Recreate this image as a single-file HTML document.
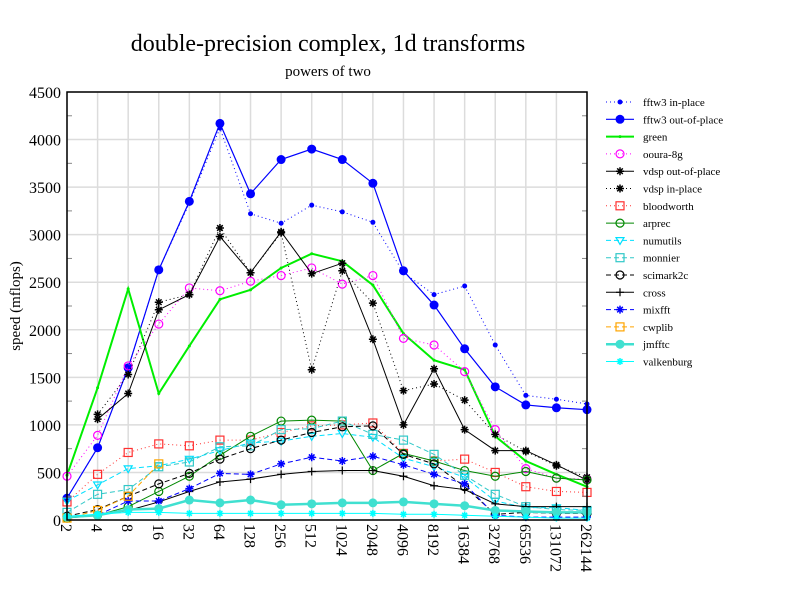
<!DOCTYPE html>
<html><head><meta charset="utf-8"><style>body{margin:0;background:#fff}svg{display:block;font-family:"Liberation Serif",serif}</style></head>
<body>
<svg id="chart" width="792" height="612" xmlns="http://www.w3.org/2000/svg">
<text x="328" y="51" font-size="24" text-anchor="middle">double-precision complex, 1d transforms</text>
<text x="328" y="76" font-size="15" text-anchor="middle">powers of two</text>
<text transform="translate(20,306) rotate(-90)" font-size="15" text-anchor="middle">speed (mflops)</text>
<g id="grid"></g>
<g id="series"></g>
<g id="axes"></g>
<g id="legend"></g>
</svg>
<script>
const categories=["2","4","8","16","32","64","128","256","512","1024","2048","4096","8192","16384","32768","65536","131072","262144"];
const yTicks=[0,500,1000,1500,2000,2500,3000,3500,4000,4500];
const seriesNames=["fftw3 in-place","fftw3 out-of-place","green","ooura-8g","vdsp out-of-place","vdsp in-place","bloodworth","arprec","numutils","monnier","scimark2c","cross","mixfft","cwplib","jmfftc","valkenburg"];
const fftwIn=[230,760,1600,2630,3330,4120,3220,3120,3310,3240,3130,2600,2370,2460,1840,1310,1270,1220];
const fftwOut=[230,760,1600,2630,3350,4170,3430,3790,3900,3790,3540,2620,2260,1800,1400,1210,1180,1160];
const green=[470,1390,2430,1330,1830,2320,2420,2650,2800,2720,2470,1960,1680,1580,880,620,480,350];
const ooura=[460,890,1620,2060,2440,2410,2510,2570,2650,2480,2570,1910,1840,1560,950,540,440,430];
const vdspOut=[null,1060,1330,2210,2370,2980,2600,3030,2590,2700,1900,1000,1590,950,730,730,580,420];
const vdspIn=[null,1110,1530,2290,2370,3070,2600,3020,1580,2620,2280,1360,1430,1260,900,720,570,450];
const bloodworth=[190,480,710,800,780,840,840,920,990,1000,1020,700,620,640,500,350,300,290];
const arprec=[20,50,140,300,460,680,880,1040,1050,1040,520,700,620,520,460,510,440,420];
const numutils=[200,370,540,570,640,730,810,830,880,910,870,650,560,450,200,130,130,100];
const monnier=[80,270,320,560,610,770,780,950,960,1040,900,840,690,470,270,140,110,100];
const scimark=[40,110,250,380,490,640,750,840,920,980,990,690,590,350,60,80,70,70];
const cross=[30,50,100,190,300,400,430,480,510,520,520,460,360,320,170,140,140,140];
const mixfft=[30,50,200,200,330,490,480,590,660,620,670,580,480,380,50,30,30,30];
const cwplib=[20,100,250,590,null,null,null,null,null,null,null,null,null,null,null,null,null,null];
const jmfftc=[30,50,110,120,210,180,210,160,170,180,180,190,170,150,100,90,80,80];
const valkenburg=[40,60,80,80,70,70,70,70,70,70,70,60,60,50,40,30,20,20];
const seriesData=[fftwIn,fftwOut,green,ooura,vdspOut,vdspIn,bloodworth,arprec,numutils,monnier,scimark,cross,mixfft,cwplib,jmfftc,valkenburg];
const styles=[
{c:"#0000ff",d:"1,3",w:1,m:"dot",r:2.5},{c:"#0000ff",d:"",w:1.2,m:"dot",r:4.5},{c:"#00ee00",d:"",w:2,m:"dot",r:1.5},
{c:"#ff00ff",d:"1,3",w:1,m:"circle",r:4},{c:"#000",d:"",w:1,m:"star",r:4},{c:"#000",d:"1,3",w:1,m:"star",r:4},
{c:"#ff3030",d:"1,3",w:1,m:"square",r:4},{c:"#008800",d:"",w:1,m:"circle",r:4},{c:"#00e0ff",d:"5,3",w:1,m:"tri",r:4},
{c:"#30c8c8",d:"5,3",w:1,m:"square",r:4},{c:"#000",d:"5,3",w:1,m:"circle",r:4},{c:"#000",d:"",w:1,m:"plus",r:4},
{c:"#0000ff",d:"5,3",w:1,m:"star",r:4},{c:"#ffa500",d:"5,3",w:1,m:"square",r:4},{c:"#40e0d0",d:"",w:2.5,m:"dot",r:4.5},
{c:"#00ffff",d:"",w:1,m:"star",r:3.5}];
const X0=67,X1=587,Y0=520,Y1=92,YMAX=4500;
const xs=i=>X0+i*(X1-X0)/(categories.length-1);
const ys=v=>Y0-v*(Y0-Y1)/YMAX;
const NS="http://www.w3.org/2000/svg";
function mk(t,a,p){const e=document.createElementNS(NS,t);for(const k in a)e.setAttribute(k,a[k]);p.appendChild(e);return e;}
const grid=document.getElementById('grid'),axes=document.getElementById('axes'),ser=document.getElementById('series'),leg=document.getElementById('legend');
categories.forEach((c,i)=>{const x=xs(i);
const g=mk('line',{x1:x,x2:x,y1:Y1,y2:Y0,stroke:"#dcdcdc","stroke-width":1.5},grid);


const t=mk('text',{transform:`translate(${x-6},524) rotate(90)`,"font-size":16},axes);t.textContent=c;

});
yTicks.forEach(v=>{const y=ys(v);
const g=mk('line',{x1:X0,x2:X1,y1:y,y2:y,stroke:"#dcdcdc","stroke-width":1.5},grid);


const t=mk('text',{x:61,y:y+6,"font-size":16,"text-anchor":"end"},axes);t.textContent=v;


if(v<YMAX){const ym=ys(v+250);mk('line',{x1:X0,x2:X0+5,y1:ym,y2:ym,stroke:"#888"},axes);mk('line',{x1:X1,x2:X1-5,y1:ym,y2:ym,stroke:"#888"},axes);}});
const fr=mk('rect',{x:X0,y:Y1,width:X1-X0,height:Y0-Y1,fill:"none",stroke:"#000","stroke-width":1.5},axes);


function marker(p,m,x,y,r,c){
if(m==="dot")mk('circle',{cx:x,cy:y,r:r,fill:c},p);
else if(m==="circle")mk('circle',{cx:x,cy:y,r:r,fill:"none",stroke:c,"stroke-width":1.2},p);
else if(m==="square")mk('rect',{x:x-r,y:y-r,width:2*r,height:2*r,fill:"none",stroke:c,"stroke-width":1.2},p);
else if(m==="tri")mk('path',{d:`M${x-r},${y-r*0.7}L${x+r},${y-r*0.7}L${x},${y+r}Z`,fill:"none",stroke:c,"stroke-width":1.2},p);
else if(m==="plus")mk('path',{d:`M${x-r},${y}H${x+r}M${x},${y-r}V${y+r}`,stroke:c,"stroke-width":1.2},p);
else if(m==="star")mk('path',{d:`M${x-r},${y}H${x+r}M${x},${y-r}V${y+r}M${x-r*.7},${y-r*.7}L${x+r*.7},${y+r*.7}M${x-r*.7},${y+r*.7}L${x+r*.7},${y-r*.7}`,stroke:c,"stroke-width":1.5},p);}
seriesData.forEach((data,s)=>{const st=styles[s];
const g=mk('g',{},ser);


let d="",pen=false;data.forEach((v,i)=>{if(v==null){pen=false;return;}d+=(pen?"L":"M")+xs(i)+","+ys(v);pen=true;});
mk('path',{d:d,fill:"none",stroke:st.c,"stroke-width":st.w,"stroke-dasharray":st.d},g);
data.forEach((v,i)=>{if(v!=null)marker(g,st.m,xs(i),ys(v),st.r,st.c);});
const ly=102+s*17.3;
const le=mk('g',{},leg);


mk('line',{x1:606,x2:634,y1:ly,y2:ly,stroke:st.c,"stroke-width":st.w,"stroke-dasharray":st.d},le);
marker(le,st.m,620,ly,st.r,st.c);
const t=mk('text',{x:643,y:ly+4,"font-size":11},le);t.textContent=seriesNames[s];});
</script>
</body></html>
